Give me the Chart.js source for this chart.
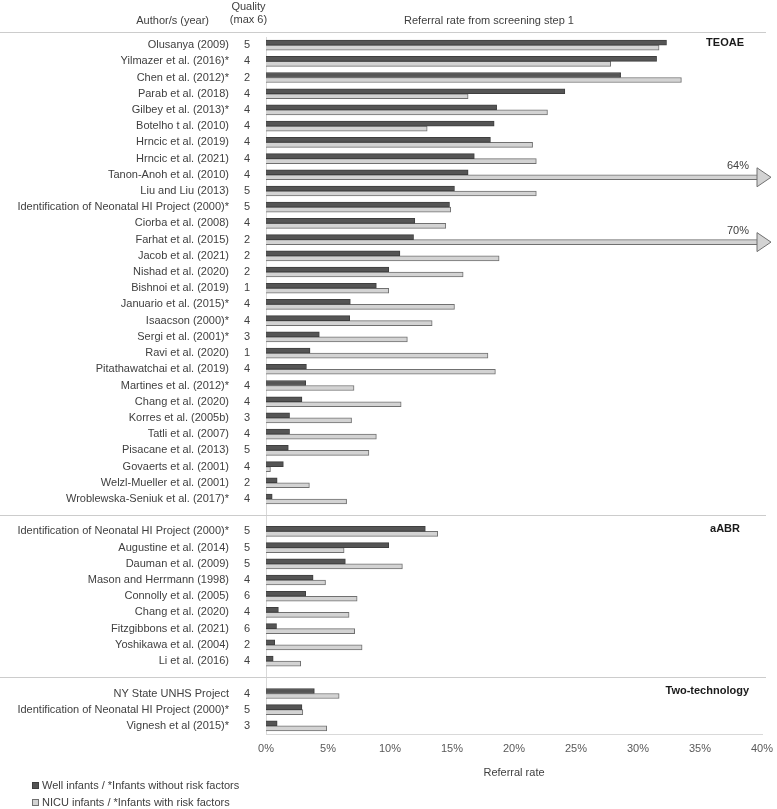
<!DOCTYPE html>
<html><head><meta charset="utf-8">
<script src="https://cdn.jsdelivr.net/npm/chart.js@4.4.0/dist/chart.umd.min.js"></script>
<style>
html,body{margin:0;padding:0;background:#fff;}
#wrap{position:relative;width:777px;height:809px;}
canvas{display:block;}
.leg{position:absolute;left:32px;font:11px 'Liberation Sans Narrow','Liberation Sans',sans-serif;color:#404040;display:flex;align-items:center;white-space:nowrap;height:12px;}
.sw{display:inline-block;width:7px;height:7px;margin-right:3px;box-sizing:border-box;}
</style></head><body>
<div id="wrap"><canvas id="c" width="777" height="809"></canvas>
<div class="leg" style="top:779px"><span class="sw" style="background:#555;border:1px solid #3f3f3f"></span>Well infants / *Infants without risk factors</div>
<div class="leg" style="top:796px"><span class="sw" style="background:#d3d3d3;border:1px solid #707070"></span>NICU infants / *Infants with risk factors</div>
</div>
<script>
// ---- DATA ----
const teoaeAuthors = ["Olusanya (2009)","Yilmazer et al. (2016)*","Chen et al. (2012)*","Parab et al. (2018)","Gilbey et al. (2013)*","Botelho t al. (2010)","Hrncic et al. (2019)","Hrncic et al. (2021)","Tanon-Anoh et al. (2010)","Liu and Liu (2013)","Identification of Neonatal HI Project (2000)*","Ciorba et al. (2008)","Farhat et al. (2015)","Jacob et al. (2021)","Nishad et al. (2020)","Bishnoi et al. (2019)","Januario et al. (2015)*","Isaacson (2000)*","Sergi et al. (2001)*","Ravi et al. (2020)","Pitathawatchai et al. (2019)","Martines et al. (2012)*","Chang et al. (2020)","Korres et al. (2005b)","Tatli et al. (2007)","Pisacane et al. (2013)","Govaerts et al. (2001)","Welzl-Mueller et al. (2001)","Wroblewska-Seniuk et al. (2017)*"];
const teoaeQuality = ["5","4","2","4","4","4","4","4","4","5","5","4","2","2","2","1","4","4","3","1","4","4","4","3","4","5","4","2","4"];
const teoaeWell = [32.3,31.5,28.6,24.1,18.6,18.4,18.1,16.8,16.3,15.2,14.8,12.0,11.9,10.8,9.9,8.9,6.8,6.75,4.3,3.55,3.26,3.2,2.9,1.9,1.9,1.8,1.4,0.9,0.5];
const teoaeNicu = [31.7,27.8,33.5,16.3,22.7,13.0,21.5,21.8,64,21.8,14.9,14.5,70,18.8,15.9,9.9,15.2,13.4,11.4,17.9,18.5,7.1,10.9,6.9,8.9,8.3,0.36,3.5,6.5];

const aabrAuthors = ["Identification of Neonatal HI Project (2000)*","Augustine et al. (2014)","Dauman et al. (2009)","Mason and Herrmann (1998)","Connolly et al. (2005)","Chang et al. (2020)","Fitzgibbons et al. (2021)","Yoshikawa et al. (2004)","Li et al. (2016)"];
const aabrQuality = ["5","5","5","4","6","4","6","2","4"];
const aabrWell = [12.85,9.9,6.4,3.8,3.2,1.0,0.85,0.7,0.58];
const aabrNicu = [13.85,6.3,11.0,4.8,7.35,6.7,7.15,7.75,2.8];

const twoAuthors = ["NY State UNHS Project","Identification of Neonatal HI Project (2000)*","Vignesh et al (2015)*"];
const twoQuality = ["4","5","3"];
const twoWell = [3.9,2.9,0.9];
const twoNicu = [5.9,2.97,4.9];

const sectionNames = ["TEOAE","aABR","Two-technology"];
const xTicks = [0,5,10,15,20,25,30,35,40];
const seriesNames = ["Well infants / *Infants without risk factors","NICU infants / *Infants with risk factors"];

// ---- build rows (blank row between sections) ----
const labels = [...teoaeAuthors, "", ...aabrAuthors, "", ...twoAuthors];
const quality = [...teoaeQuality, "", ...aabrQuality, "", ...twoQuality];
const well = [...teoaeWell, null, ...aabrWell, null, ...twoWell];
const nicu = [...teoaeNicu, null, ...aabrNicu, null, ...twoNicu];
const sepIdx = [teoaeAuthors.length, teoaeAuthors.length + 1 + aabrAuthors.length];
const sectionStart = [0, sepIdx[0] + 1, sepIdx[1] + 1];

const FONT = "'Liberation Sans Narrow','Liberation Sans',sans-serif";
Chart.defaults.font.family = FONT;
Chart.defaults.font.size = 11;
Chart.defaults.color = '#404040';

const overlay = {
  id: 'overlay',
  afterDraw(chart) {
    const {ctx, chartArea, scales: {x, y}} = chart;
    ctx.save();
    // separator lines
    ctx.strokeStyle = '#cccccc';
    ctx.lineWidth = 1;
    const lines = [chartArea.top - 5, ...sepIdx.map(i => y.getPixelForValue(i))];
    lines.forEach(py => {
      const yy = Math.round(py) + 0.5;
      ctx.beginPath(); ctx.moveTo(0, yy); ctx.lineTo(766, yy); ctx.stroke();
    });
    // section labels
    ctx.fillStyle = '#1a1a1a';
    ctx.font = "bold 11px " + FONT;
    ctx.textAlign = 'right';
    ctx.textBaseline = 'middle';
    const sectionRight = [744, 740, 749];
    sectionStart.forEach((idx, k) => {
      ctx.fillText(sectionNames[k], sectionRight[k], y.getPixelForValue(idx) - 2.5);
    });
    // header
    ctx.fillStyle = '#404040';
    ctx.font = "11px " + FONT;
    ctx.textAlign = 'right';
    ctx.fillText('Author/s (year)', 209, 21);
    ctx.textAlign = 'center';
    ctx.fillText('Quality', 248.5, 7);
    ctx.fillText('(max 6)', 248.5, 20);
    ctx.fillText('Referral rate from screening step 1', 489, 21);
    // arrows for values beyond axis max
    const meta = chart.getDatasetMeta(1);
    const R = chartArea.right;
    nicu.forEach((v, i) => {
      if (v !== null && v > x.max) {
        const el = meta.data[i];
        const cy = el.y;
        ctx.beginPath();
        ctx.moveTo(R - 5, cy - 9.5);
        ctx.lineTo(R + 9, cy);
        ctx.lineTo(R - 5, cy + 9.5);
        ctx.closePath();
        ctx.fillStyle = '#d3d3d3';
        ctx.fill();
        ctx.strokeStyle = '#707070';
        ctx.lineWidth = 1;
        ctx.stroke();
        ctx.fillStyle = '#404040';
        ctx.textAlign = 'center';
        ctx.fillText(v + '%', R - 24, cy - 11.5);
      }
    });
    ctx.restore();
  }
};

new Chart(document.getElementById('c'), {
  type: 'bar',
  data: {
    labels: labels,
    datasets: [
      {label: seriesNames[0], data: well, backgroundColor: '#555555', borderColor: '#3f3f3f', borderWidth: 1, barThickness: 5},
      {label: seriesNames[1], data: nicu, backgroundColor: '#d3d3d3', borderColor: '#707070', borderWidth: 1, barThickness: 5}
    ]
  },
  options: {
    indexAxis: 'y',
    responsive: false,
    animation: false,
    layout: {padding: {top: 37, left: 0, right: 15, bottom: 25}},
    plugins: {legend: {display: false}, tooltip: {enabled: false}},
    scales: {
      x: {
        type: 'linear', min: 0, max: 40,
        afterBuildTicks: s => { s.ticks = xTicks.map(v => ({value: v})); },
        ticks: {callback: v => v + '%', color: '#595959', padding: 8, font: {size: 11}},
        grid: {display: false, drawTicks: false},
        border: {display: true, color: '#d9d9d9'},
        title: {display: true, text: 'Referral rate', color: '#404040', font: {size: 11}, padding: {top: 0, bottom: 4}},
        afterFit: s => { s.height = 50; s.paddingLeft = 0; s.paddingRight = 0; }
      },
      y: {
        type: 'category', position: 'left', weight: 1,
        grid: {display: false, drawTicks: false},
        border: {display: false},
        ticks: {autoSkip: false, padding: 7, color: '#404040'},
        afterFit: s => { s.width = 236; }
      },
      yq: {
        type: 'category', position: 'left', weight: 0, labels: quality,
        grid: {display: false, drawTicks: false},
        border: {display: true, color: '#d9d9d9'},
        ticks: {autoSkip: false, padding: 16, color: '#404040'},
        afterFit: s => { s.width = 30; }
      }
    }
  },
  plugins: [overlay]
});
</script>
</body></html>
